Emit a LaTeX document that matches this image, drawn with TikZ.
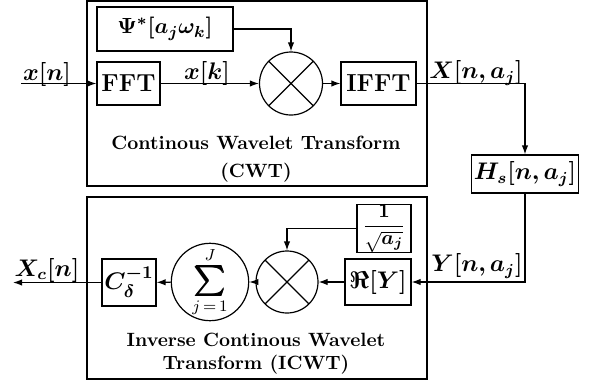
\documentclass[tikz,border=0pt]{standalone}
\usepackage{amsmath,bm,graphicx}
\usetikzlibrary{arrows.meta}
\begin{document}
\begin{tikzpicture}[x=0.5pt,y=-0.5pt,
  line width=0.6pt,
  >={Latex[length=4.5pt,width=3.2pt]},
  bigbox/.style={draw, inner sep=0pt},
  blk/.style={draw, inner sep=0pt, font=\fontsize{11.5}{13}\selectfont\bfseries},
  txtblk/.style={blk, font=\fontsize{12.3}{14}\selectfont\bfseries},
  mult/.style={circle, draw, inner sep=0pt, minimum size=31.5pt,
    path picture={\draw (path picture bounding box.north west) -- (path picture bounding box.south east)
                        (path picture bounding box.north east) -- (path picture bounding box.south west);}},
  sumnode/.style={circle, draw, inner sep=0pt, minimum size=32pt, font=\fontsize{11.5}{13}\selectfont},
  lbl/.style={inner sep=0pt, font=\fontsize{11.5}{13}\selectfont},
  captxt/.style={inner sep=0pt, font=\fontsize{9.6}{12}\selectfont\bfseries, anchor=base}]
\useasboundingbox (0,0) rectangle (590,386);
% big boxes
\node[bigbox, minimum width=170pt, minimum height=92.5pt] (cwt) at (257,93.5) {};
\node[bigbox, minimum width=170pt, minimum height=91pt] (icwt) at (257,288) {};
% captions
\node[captxt] (c1) at (256,149) {Continous Wavelet Transform};
\node[captxt] (c2) at (256,177) {(CWT)};
\node[captxt] (c3) at (256,346) {Inverse Continous Wavelet};
\node[captxt] (c4) at (256,369) {Transform (ICWT)};
% top blocks
\node[blk, minimum width=68pt, minimum height=22pt, font=\fontsize{11}{13}\selectfont] (psi) at (165,29) {$\bm{\Psi^*[a_j\omega_k]}$};
\node[txtblk, minimum width=31.5pt, minimum height=21.5pt] (fft) at (128.5,83.5) {FFT};
\node[mult] (m1) at (291,83.5) {};
\node[txtblk, minimum width=37.5pt, minimum height=21.5pt] (ifft) at (378.5,83.5) {IFFT};
\node[blk, minimum width=53.5pt, minimum height=19pt] (hs) at (525,174) {$\bm{H_s[n,a_j]}$};
% bottom blocks
\node[blk, minimum width=27pt, minimum height=23.5pt, font=\fontsize{10}{11}\selectfont] (isq) at (384,228.5) {$\displaystyle\frac{\bm{1}}{\sqrt{\bm{a_j}}}$};
\node[blk, minimum width=33pt, minimum height=23pt] (re) at (378,282) {$\bm{\Re[Y]}$};
\node[mult, minimum size=31pt] (m2) at (287,282) {};
\node[sumnode] (sum) at (210,282) {\raisebox{1.5pt}{$\textstyle\mathop{\text{\scalebox{1.25}{$\bm{\sum}$}}}\limits_{j\,=\,1}^{J}$}};
\node[blk, minimum width=27pt, minimum height=23.5pt, font=\fontsize{12.5}{14}\selectfont] (cd) at (129,282.5) {$\bm{C_\delta^{-1}}$};
% coordinates
\coordinate (in) at (21,83.5);
\coordinate (out) at (13,282.5);
% labels
\node[lbl] (lxn) at (47,74) {$\bm{x[n]}$};
\node[lbl] (lxk) at (207,73) {$\bm{x[k]}$};
\node[lbl] (lX) at (476,73) {$\bm{X[n,a_j]}$};
\node[lbl] (lY) at (477,266) {$\bm{Y[n,a_j]}$};
\node[lbl] (lXc) at (47,270) {$\bm{X_c[n]}$};
% connectors
\draw[->] (in) -- (fft);
\draw[->] (fft) -- (m1);
\draw[->] (m1) -- (ifft);
\draw[->] (psi.east) -| (m1.north);
\draw[->] (ifft.east) -| (hs.north);
\draw[->] (hs.south) |- (re.east);
\draw[->] (re) -- (m2);
\draw[->] (isq.west) -| (m2.north);
\draw[->] (m2) -- (sum);
\draw[->] (sum) -- (cd);
\draw[->] (cd) -- (out);
\end{tikzpicture}
\end{document}
